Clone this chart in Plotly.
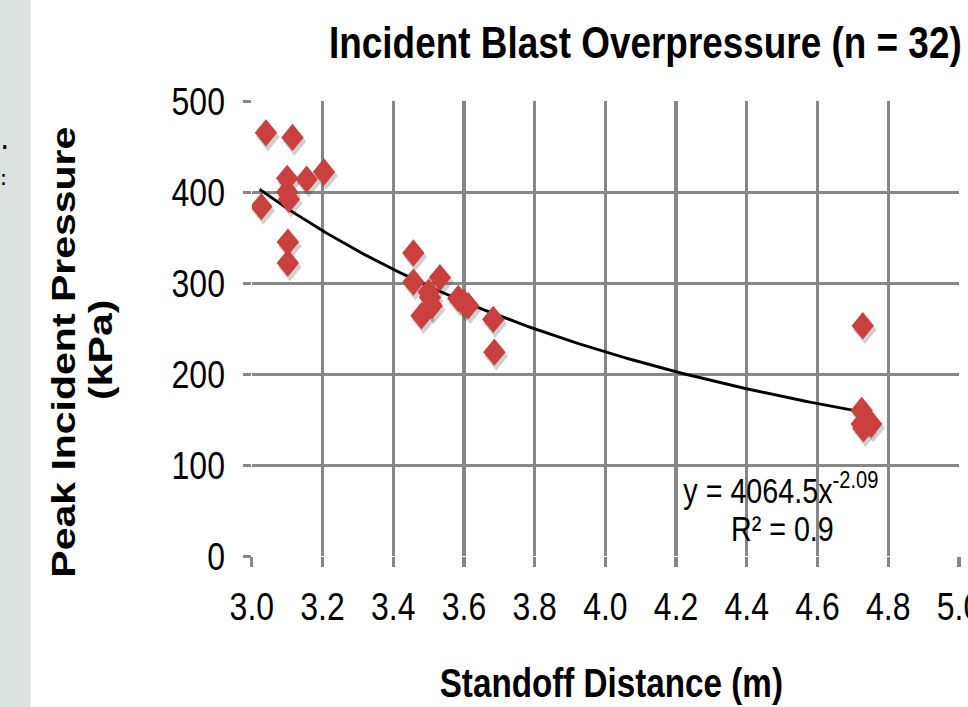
import numpy as np
import plotly.graph_objects as go

# ---- data ----
standoff_m = [3.04, 3.115, 3.10, 3.155, 3.204, 3.027, 3.105, 3.102, 3.102, 3.10,
              3.457, 3.457, 3.532, 3.504, 3.48, 3.509, 3.584, 3.612, 3.683, 3.686, 3.50, 3.60,
              4.728, 4.725, 4.725, 4.73, 4.752, 4.74]
pressure_kpa = [465, 460, 415, 414, 422, 384, 392, 345, 322, 400,
                333, 301, 306, 284, 264, 275, 283, 275, 260, 224, 290, 278,
                253, 160, 145, 140, 145, 150]

fit_a = 4064.5
fit_b = -2.09
fit_r2 = 0.9

x_ticks = [3.0, 3.2, 3.4, 3.6, 3.8, 4.0, 4.2, 4.4, 4.6, 4.8, 5.0]
y_ticks = [0, 100, 200, 300, 400, 500]

title_text = "Incident Blast Overpressure (n = 32)"
x_title = "Standoff Distance (m)"
y_title_1 = "Peak Incident Pressure"
y_title_2 = "(kPa)"

# ---- layout geometry ----
# The reference is horizontally compressed; draw wider and squeeze with CSS.
VIEW_W, H = 968, 707
SQ = 0.8203
W = round(VIEW_W / SQ)

def u(px):  # reference x-pixel -> unsqueezed pixel
    return px / SQ

L = u(252)
R = W - u(959)
T, B = 101, H - 556
pw, ph = W - L - R, H - T - B

def px_x(p):
    return (u(p) - L) / pw

def px_y(p):
    return (H - B - p) / ph

font_fam = "Liberation Sans, Arial, sans-serif"

fig = go.Figure()

xs = np.linspace(min(standoff_m) - 0.005, max(standoff_m), 200)
fig.add_trace(go.Scatter(x=xs, y=fit_a * xs ** fit_b, mode="lines",
                         line=dict(color="black", width=3), hoverinfo="skip",
                         showlegend=False))

# soft drop shadow under each marker (shifted a few pixels down-right)
dx = 2.0 / (pw * SQ) * 2.0
dy = 4.0 / ph * 500
fig.add_trace(go.Scatter(x=[v + dx for v in standoff_m], y=[v - dy for v in pressure_kpa],
                         mode="markers", hoverinfo="skip",
                         marker=dict(symbol="diamond", size=22, color="rgba(40,40,40,0.22)",
                                     line=dict(width=0)),
                         showlegend=False))
fig.add_trace(go.Scatter(x=standoff_m, y=pressure_kpa, mode="markers",
                         marker=dict(symbol="diamond", size=21, color="#c9403f",
                                     line=dict(width=0)),
                         showlegend=False))

grid = "#878787"
fig.update_xaxes(range=[3.0, 5.0], tickvals=x_ticks,
                 ticktext=[f"{v:.1f}" for v in x_ticks],
                 showgrid=True, gridcolor=grid, gridwidth=3.6,
                 ticks="outside", ticklen=10, tickwidth=3.6, tickcolor=grid,
                 ticklabelstandoff=6, ticklabeloverflow="allow", automargin=False,
                 zeroline=False, showline=False,
                 tickfont=dict(family=font_fam, size=39, color="black"))
fig.update_yaxes(range=[0, 500], tickvals=y_ticks,
                 showgrid=True, gridcolor=grid, gridwidth=3,
                 ticks="outside", ticklen=10, tickwidth=3, tickcolor=grid,
                 ticklabelstandoff=14, automargin=False,
                 zeroline=False, showline=False,
                 tickfont=dict(family=font_fam, size=39, color="black"))

shapes = [
    dict(type="rect", xref="paper", yref="paper",
         x0=px_x(0) - 0.01, x1=px_x(31), y0=px_y(H + 5), y1=px_y(-5),
         fillcolor="#dce2e0", line=dict(width=0), layer="below"),
]

def ann(text, x, y, size, angle=0, bold=False):
    return dict(text=f"<b>{text}</b>" if bold else text, xref="paper", yref="paper",
                x=px_x(x), y=px_y(y), showarrow=False, xanchor="center",
                yanchor="middle", textangle=angle,
                font=dict(family=font_fam, size=size, color="black"))

annotations = [
    ann(title_text, 646, 42, 45, bold=True),
    ann(x_title, 612, 683, 40.5, bold=True),
    ann(y_title_1, 64, 352, 41, angle=-90, bold=True),
    ann(y_title_2, 101, 350, 41, angle=-90, bold=True),
    ann(f"y = {fit_a}x<sup>{fit_b}</sup>", 781, 488, 35),
    ann(f"R² = {fit_r2}", 782, 528, 35),
    ann(".", 5, 140, 26, bold=True),
    ann(":", 4, 178, 20, bold=True),
]

fig.update_layout(width=W, height=H, margin=dict(l=L, r=R, t=T, b=B, autoexpand=False),
                  paper_bgcolor="white", plot_bgcolor="white",
                  shapes=shapes, annotations=annotations, showlegend=False)

squeeze_js = f"""
document.documentElement.style.overflow='hidden';
document.body.style.margin='0';
document.body.style.overflow='hidden';
var gd = document.getElementsByClassName('plotly-graph-div')[0];
gd.style.transformOrigin = '0 0';
gd.style.transform = 'scaleX({SQ})';
"""

fig.write_html("out.html", post_script=squeeze_js,
               config={"displayModeBar": False})
